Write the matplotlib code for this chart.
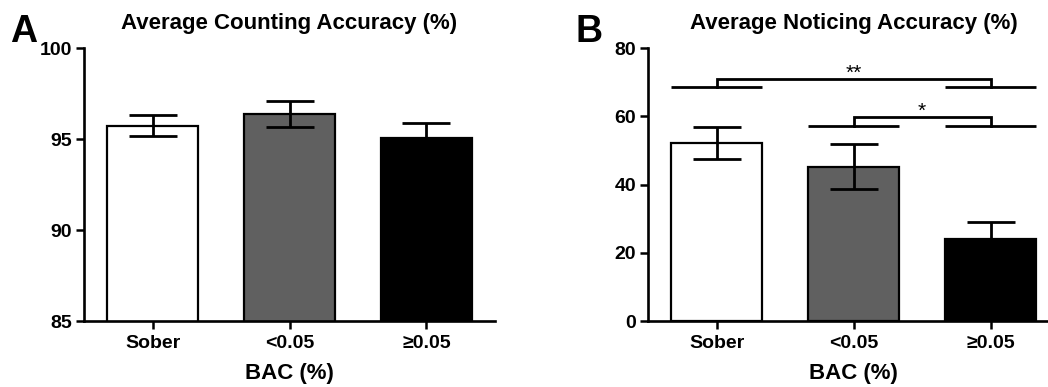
import matplotlib
matplotlib.use("Agg")
import matplotlib.pyplot as plt
import numpy as np

categories = ["Sober", "<0.05", "\u22650.05"]
counting_mean = [95.75, 96.39, 95.05]
counting_sem = [0.60, 0.72, 0.86]
noticing_mean = [52.1, 45.3, 24.1]
noticing_sem = [4.7, 6.5, 5.0]
counting_yticks = [85, 90, 95, 100]
noticing_yticks = [0, 20, 40, 60, 80]
comparisons = [(0, 2, "**"), (1, 2, "*")]

plt.rcParams['font.family'] = ['Liberation Sans', 'DejaVu Sans']
plt.rcParams['font.weight'] = 'bold'

W, H = 1048, 387
fig = plt.figure(figsize=(W / 100, H / 100), dpi=100)

colors = ["white", "#606060", "black"]
bw = 0.67


def px_axes(left, top, right, bottom):
    return fig.add_axes([left / W, 1 - bottom / H, (right - left) / W, (bottom - top) / H])


def style(ax, ylim, yticks):
    ax.set_xlim(-0.5, 2.5)
    ax.set_ylim(*ylim)
    ax.set_yticks(yticks)
    ax.set_xticks(range(len(categories)))
    ax.set_xticklabels(categories)
    for s in ["top", "right"]:
        ax.spines[s].set_visible(False)
    for s in ["left", "bottom"]:
        ax.spines[s].set_linewidth(1.9)
    ax.tick_params(axis='both', width=1.8, length=5.5, labelsize=14, pad=3)
    ax.tick_params(axis='x', pad=4.5)
    for lab in ax.get_xticklabels() + ax.get_yticklabels():
        lab.set_fontweight('bold')
    ax.set_xlabel("BAC (%)", fontsize=16, fontweight='bold', labelpad=8)


def draw_bars(ax, means, sems):
    x = np.arange(len(categories))
    ax.bar(x, means, width=bw, color=colors, edgecolor='black', linewidth=1.6, zorder=2)
    ax.errorbar(x, means, yerr=sems, fmt='none', ecolor='black', elinewidth=2.0,
                capsize=17, capthick=2.0, zorder=3)


axA = px_axes(84, 48.3, 495, 321)
draw_bars(axA, counting_mean, counting_sem)
style(axA, (85, 100), counting_yticks)
axA.set_title("Average Counting Accuracy (%)", fontsize=16, fontweight='bold', pad=14)

axB = px_axes(648, 48.3, 1059, 321)
draw_bars(axB, noticing_mean, noticing_sem)
style(axB, (0, 80), noticing_yticks)
axB.set_title("Average Noticing Accuracy (%)", fontsize=16, fontweight='bold', pad=14)

# significance brackets
levels = [(68.7, 71.1), (57.2, 59.9)]
for (i, j, lab), (ybase, ytop) in zip(comparisons, levels):
    for k in (i, j):
        axB.plot([k - bw / 2, k + bw / 2], [ybase, ybase], color='black', lw=2.0,
                 solid_capstyle='butt', clip_on=False, zorder=4)
    axB.plot([i, i, j, j], [ybase, ytop, ytop, ybase], color='black', lw=2.0,
             solid_joinstyle='miter', clip_on=False, zorder=4)
    axB.text((i + j) / 2, ytop - 0.1, lab, ha='center', va='baseline', fontsize=15,
             fontweight='normal')

fig.text(10 / W, 1 - 41.7 / H, "A", fontsize=27, fontweight='bold', ha='left', va='baseline')
fig.text(576 / W, 1 - 41.7 / H, "B", fontsize=27, fontweight='bold', ha='left', va='baseline')

fig.savefig("out.png", dpi=100)
